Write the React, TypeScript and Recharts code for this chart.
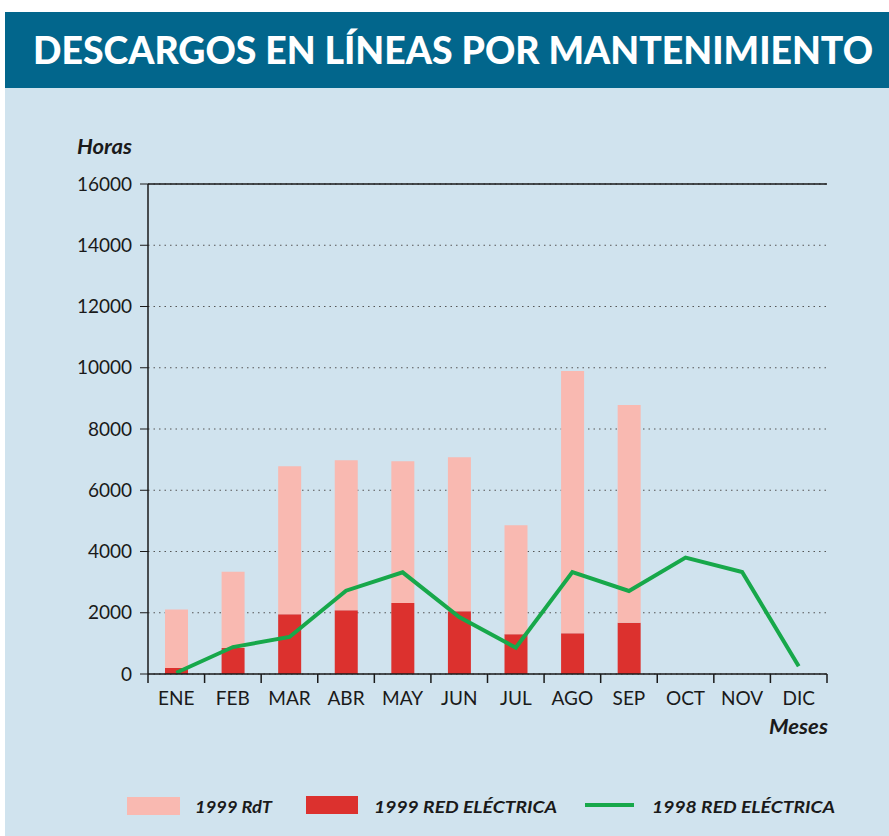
import React from 'react';
import { ComposedChart, Bar, Line, XAxis, YAxis, CartesianGrid, ReferenceLine } from 'recharts';

const MONTHS = ['ENE', 'FEB', 'MAR', 'ABR', 'MAY', 'JUN', 'JUL', 'AGO', 'SEP', 'OCT', 'NOV', 'DIC'];
// 1999 RdT total (pink bar top), 1999 Red Eléctrica (red part), 1998 Red Eléctrica (green line)
const RDT_1999 = [2110, 3340, 6780, 6980, 6950, 7080, 4860, 9890, 8780, null, null, null];
const RED_1999 = [196, 850, 1950, 2080, 2320, 2050, 1300, 1330, 1670, null, null, null];
const RED_1998 = [40, 880, 1210, 2720, 3320, 1860, 860, 3330, 2710, 3800, 3330, 250];
const Y_TICKS = [0, 2000, 4000, 6000, 8000, 10000, 12000, 14000, 16000];

const PINK = '#f9b9b1';
const RED = '#dc312e';
const GREEN = '#17a84a';
const INK = '#1a1a1a';
const FONT = 'Lato, "Open Sans", sans-serif';
const LABEL_GAP = 18;

const rows = MONTHS.map((m, i) => ({
    month: m,
    red: RED_1999[i],
    rest: RDT_1999[i] != null && RED_1999[i] != null ? (RDT_1999[i] as number) - (RED_1999[i] as number) : null,
    prev: RED_1998[i],
}));

// month label + tick marks on the band edges (not the centres)
const MonthTick = (props: any) => {
    const { x, y, payload, index, width, visibleTicksCount } = props;
    const half = payload?.offset || (width && visibleTicksCount ? width / visibleTicksCount / 2 : 0);
    const axisY = y - LABEL_GAP;
    return (
        <g>
            <line x1={x - half} x2={x - half} y1={axisY} y2={axisY + 9} stroke={INK} strokeWidth={1.5} />
            {index === MONTHS.length - 1 && (
                <line x1={x + half} x2={x + half} y1={axisY} y2={axisY + 9} stroke={INK} strokeWidth={1.5} />
            )}
            <text x={x} y={y} dy="0.71em" textAnchor="middle"
                style={{ fill: INK, fontSize: 19, fontFamily: FONT }}>{payload.value}</text>
        </g>
    );
};

function Overlay() {
    const lbl = { fontFamily: FONT, fontWeight: 700, fontStyle: 'italic' as const, fill: INK };
    return (
        <svg width={889} height={836} style={{ position: 'absolute', left: 0, top: 0, pointerEvents: 'none' }}>
            <text x={33} y={64} textLength={840} lengthAdjust="spacingAndGlyphs"
                style={{ fontFamily: FONT, fontWeight: 900, fontSize: 38, fill: '#fff' }}>
                DESCARGOS EN LÍNEAS POR MANTENIMIENTO
            </text>
            <text x={77} y={154} textLength={55} lengthAdjust="spacingAndGlyphs" style={{ ...lbl, fontSize: 20 }}>Horas</text>
            <text x={769} y={734} textLength={59} lengthAdjust="spacingAndGlyphs" style={{ ...lbl, fontSize: 20 }}>Meses</text>

            <rect x={127} y={797} width={53} height={18} fill={PINK} />
            <text x={195} y={813} textLength={77} lengthAdjust="spacingAndGlyphs" style={{ ...lbl, fontSize: 17 }}>1999 RdT</text>
            <rect x={306} y={796} width={52} height={18} fill={RED} />
            <text x={374} y={813} textLength={183} lengthAdjust="spacingAndGlyphs" style={{ ...lbl, fontSize: 17 }}>1999 RED ELÉCTRICA</text>
            <line x1={585} x2={634} y1={805} y2={805} stroke={GREEN} strokeWidth={4} />
            <text x={652} y={813} textLength={183} lengthAdjust="spacingAndGlyphs" style={{ ...lbl, fontSize: 17 }}>1998 RED ELÉCTRICA</text>
        </svg>
    );
}

export default function App() {
    return (
        <div style={{ position: 'absolute', left: 0, top: 0, width: 889, height: 836, background: '#fff' }}>
            <div style={{ position: 'absolute', left: 5, top: 12, right: 0, bottom: 0, background: '#d0e3ee' }} />
            <div style={{ position: 'absolute', left: 5, top: 12, right: 0, height: 76, background: '#02668c' }} />
            <div style={{ position: 'absolute', left: 0, top: 0 }}>
                <ComposedChart width={889} height={836} data={rows}
                    margin={{ top: 184, right: 62, bottom: 132, left: 0 }}>
                    <CartesianGrid vertical={false} stroke="#555" strokeDasharray="1.5 4" />
                    <XAxis dataKey="month" height={30} tickSize={0} tickMargin={LABEL_GAP}
                        axisLine={{ stroke: INK, strokeWidth: 1.5 }} interval={0} tick={<MonthTick />} />
                    <YAxis domain={[0, 16000]} ticks={Y_TICKS} width={148} tickSize={8} tickMargin={8}
                        axisLine={{ stroke: INK, strokeWidth: 1.5 }} tickLine={{ stroke: INK }}
                        tick={{ fill: INK, fontSize: 19, fontFamily: FONT }} interval={0} />
                    <YAxis yAxisId="r" orientation="right" domain={[0, 16000]} width={0}
                        tick={false} tickLine={false} axisLine={{ stroke: INK, strokeWidth: 1.5 }} />
                    <ReferenceLine y={16000} stroke={INK} strokeWidth={1.5} />
                    <Bar dataKey="red" stackId="s" fill={RED} barSize={23} isAnimationActive={false} />
                    <Bar dataKey="rest" stackId="s" fill={PINK} barSize={23} isAnimationActive={false} />
                    <Line dataKey="prev" type="linear" stroke={GREEN} strokeWidth={4} dot={false}
                        activeDot={false} isAnimationActive={false} />
                </ComposedChart>
            </div>
            <Overlay />
        </div>
    );
}
